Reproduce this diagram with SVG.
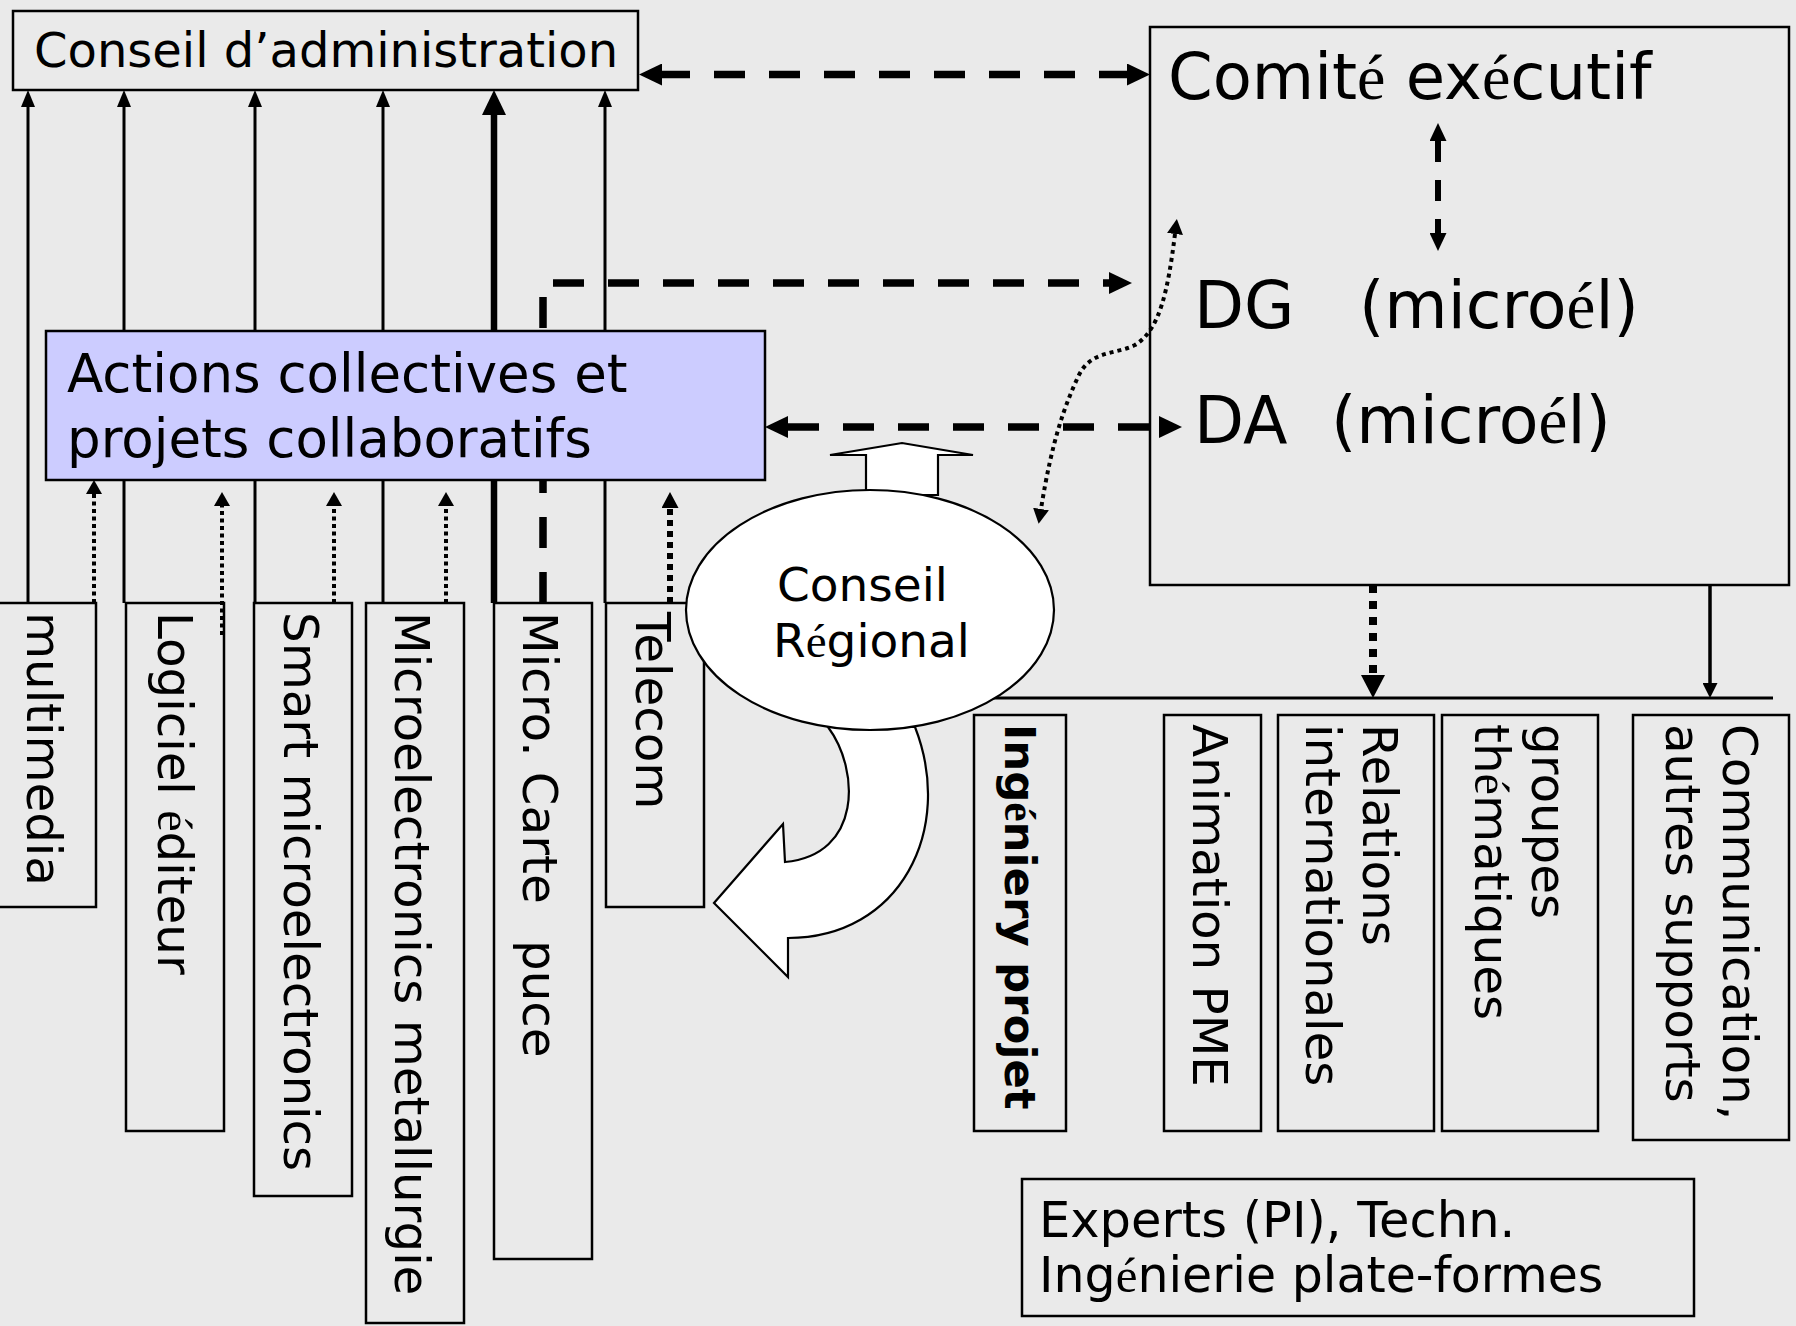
<svg xmlns="http://www.w3.org/2000/svg" width="1796" height="1326" viewBox="0 0 1796 1326">
<style>
text { font-family: "DejaVu Sans", Verdana, sans-serif; fill: #000; }
.acc { font-family: "Liberation Serif", "Times New Roman", serif; }
.box { fill: none; stroke: #000; stroke-width: 2.5; }
.ln { fill: none; stroke: #000; stroke-linecap: butt; }
.t47 { font-size: 48.3px; }
.white { fill: #fff; stroke: #000; stroke-width: 2.2; }
</style>
<defs>
<marker id="m-up" markerUnits="userSpaceOnUse" viewBox="0 0 17 14" markerWidth="17" markerHeight="14" refX="0" refY="7" orient="auto-start-reverse"><path d="M0,0 L17,7 L0,14 Z"/></marker>
<marker id="m-upb" markerUnits="userSpaceOnUse" viewBox="0 0 25 24" markerWidth="25" markerHeight="24" refX="0" refY="12" orient="auto-start-reverse"><path d="M0,0 L25,12 L0,24 Z"/></marker>
<marker id="m-dash" markerUnits="userSpaceOnUse" viewBox="0 0 23 22" markerWidth="23" markerHeight="22" refX="0" refY="11" orient="auto-start-reverse"><path d="M0,0 L23,11 L0,22 Z"/></marker>
<marker id="m-dot" markerUnits="userSpaceOnUse" viewBox="0 0 14 16" markerWidth="14" markerHeight="16" refX="0" refY="8" orient="auto-start-reverse"><path d="M0,0 L14,8 L0,16 Z"/></marker>
<marker id="m-dot2" markerUnits="userSpaceOnUse" viewBox="0 0 16 17" markerWidth="16" markerHeight="17" refX="0" refY="8.5" orient="auto-start-reverse"><path d="M0,0 L16,8.5 L0,17 Z"/></marker>
<marker id="m-vd" markerUnits="userSpaceOnUse" viewBox="0 0 18 17" markerWidth="18" markerHeight="17" refX="0" refY="8.5" orient="auto-start-reverse"><path d="M0,0 L18,8.5 L0,17 Z"/></marker>
<marker id="m-cv" markerUnits="userSpaceOnUse" viewBox="0 0 15 16" markerWidth="15" markerHeight="16" refX="0" refY="8" orient="auto-start-reverse"><path d="M0,0 L15,8 L0,16 Z"/></marker>
<marker id="m-dotb" markerUnits="userSpaceOnUse" viewBox="0 0 23 24" markerWidth="23" markerHeight="24" refX="0" refY="12" orient="auto-start-reverse"><path d="M0,0 L23,12 L0,24 Z"/></marker>
<marker id="m-sol" markerUnits="userSpaceOnUse" viewBox="0 0 15 15" markerWidth="15" markerHeight="15" refX="0" refY="7.5" orient="auto-start-reverse"><path d="M0,0 L15,7.5 L0,15 Z"/></marker>
</defs>

<rect x="0" y="0" width="1796" height="1326" fill="#EAEAEA"/>

<g id="connectors">
  <!-- solid lines up to Conseil d'administration -->
  <path class="ln" d="M28,603 V107" stroke-width="3" marker-end="url(#m-up)"/>
  <path class="ln" d="M124,603 V107" stroke-width="3" marker-end="url(#m-up)"/>
  <path class="ln" d="M255,603 V107" stroke-width="3" marker-end="url(#m-up)"/>
  <path class="ln" d="M383,603 V107" stroke-width="3" marker-end="url(#m-up)"/>
  <path class="ln" d="M494,603 V115" stroke-width="6.5" marker-end="url(#m-upb)"/>
  <path class="ln" d="M605,603 V107" stroke-width="3" marker-end="url(#m-up)"/>
  <!-- dotted lines up to Actions collectives -->
  <path class="ln" d="M94,603 V494" stroke-width="4" stroke-dasharray="4 3.5" marker-end="url(#m-dot)"/>
  <path class="ln" d="M222,635 V506" stroke-width="4" stroke-dasharray="4 3.5" marker-end="url(#m-dot)"/>
  <path class="ln" d="M334,603 V506" stroke-width="4" stroke-dasharray="4 3.5" marker-end="url(#m-dot)"/>
  <path class="ln" d="M446,603 V506" stroke-width="4" stroke-dasharray="4 3.5" marker-end="url(#m-dot)"/>
  <path class="ln" d="M670,603 V508" stroke-width="6" stroke-dasharray="6 5" marker-end="url(#m-dot2)"/>
  <!-- Conseil d'administration <-> Comité exécutif -->
  <path class="ln" d="M662,74.5 H1127" stroke-width="7.5" stroke-dasharray="28 24 31 24 31 24 31 24 31 24 31 24 31 24 31 24 31 24" marker-start="url(#m-dash)" marker-end="url(#m-dash)"/>
  <!-- Micro. Carte puce -> DG -->
  <path class="ln" d="M543,603 V283 H1109" stroke-width="7.5" stroke-dasharray="31 24" marker-end="url(#m-dash)"/>
  <!-- Actions collectives <-> DA -->
  <path class="ln" d="M788,427 H1159" stroke-width="7.5" stroke-dasharray="31 24" marker-start="url(#m-dash)" marker-end="url(#m-dash)"/>
  <!-- Comité <-> DG -->
  <path class="ln" d="M1438,141 V233" stroke-width="6" stroke-dasharray="21 18" marker-start="url(#m-vd)" marker-end="url(#m-vd)"/>
  <!-- dotted curve -->
  <path class="ln" d="M1175,234 C1168,290 1160,330 1135,345 C1115,355 1090,350 1078,377 C1065,405 1052,440 1041,509" stroke-width="4" stroke-dasharray="4 4" marker-start="url(#m-cv)" marker-end="url(#m-cv)"/>
  <!-- Comité down to the bus line -->
  <path class="ln" d="M1373,585 V675" stroke-width="8" stroke-dasharray="8 8" marker-end="url(#m-dotb)"/>
  <path class="ln" d="M1710,585 V683" stroke-width="3.5" marker-end="url(#m-sol)"/>
  <!-- bus line -->
  <path class="ln" d="M960,698 H1773" stroke-width="3"/>
</g>

<g id="n-conseil-admin">
  <rect class="box" x="13" y="11" width="625" height="79"/>
  <text x="34" y="67" font-size="48">Conseil d’administration</text>
</g>

<g id="n-comite">
  <rect class="box" x="1150" y="27" width="639" height="558"/>
  <text x="1168" y="99" font-size="64">Comit<tspan class="acc">é</tspan> ex<tspan class="acc">é</tspan>cutif</text>
</g>

<g id="n-dg">
  <text x="1194" y="328" font-size="65">DG <tspan x="1359">(micro<tspan class="acc">é</tspan>l)</tspan></text>
</g>

<g id="n-da">
  <text x="1194" y="443" font-size="65">DA <tspan x="1331">(micro<tspan class="acc">é</tspan>l)</tspan></text>
</g>

<g id="n-actions">
  <rect x="46" y="331" width="719" height="149" fill="#CCCCFF" stroke="#000" stroke-width="2.5"/>
  <text x="67" y="392" font-size="53">Actions collectives et</text>
  <text x="67" y="457" font-size="53">projets collaboratifs</text>
</g>

<g id="n-multimedia">
  <rect class="box" x="-3" y="603" width="99" height="304"/>
  <text class="t47" transform="translate(27,612) rotate(90)">multimedia</text>
</g>
<g id="n-logiciel">
  <rect class="box" x="126" y="603" width="98" height="528"/>
  <text class="t47" transform="translate(158,612) rotate(90)">Logiciel <tspan class="acc">é</tspan>diteur</text>
</g>
<g id="n-smart">
  <rect class="box" x="254" y="603" width="98" height="593"/>
  <text class="t47" transform="translate(284,612) rotate(90)">Smart microelectronics</text>
</g>
<g id="n-metallurgie">
  <rect class="box" x="366" y="603" width="98" height="720"/>
  <text class="t47" transform="translate(395,612) rotate(90)">Microelectronics metallurgie</text>
</g>
<g id="n-carte-puce">
  <rect class="box" x="494" y="603" width="98" height="656"/>
  <text class="t47" transform="translate(523,612) rotate(90)">Micro. Carte <tspan x="328">puce</tspan></text>
</g>
<g id="n-telecom">
  <rect class="box" x="606" y="603" width="98" height="304"/>
  <text class="t47" transform="translate(636,612) rotate(90)">Telecom</text>
</g>

<g id="n-conseil-regional">
  <path class="white" d="M828,727 C860,770 862,855 785,862 L783,824 L714,903 L788,977 L788,938 C900,938 955,830 915,727 Z"/>
  <path class="white" d="M866,495 L866,455 L830,455 L902,443 L973,455 L938,455 L938,495 Z"/>
  <ellipse class="white" cx="870" cy="610" rx="184" ry="120"/>
  <text x="777" y="601" font-size="47">Conseil</text>
  <text x="773" y="657" font-size="47">R<tspan class="acc">é</tspan>gional</text>
</g>

<g id="n-ingeniery">
  <rect class="box" x="974" y="715" width="92" height="416"/>
  <text transform="translate(1005,724) rotate(90)" font-size="43.5" font-weight="bold">Ing<tspan class="acc">é</tspan>niery projet</text>
</g>
<g id="n-animation">
  <rect class="box" x="1164" y="715" width="97" height="416"/>
  <text class="t47" transform="translate(1193,724) rotate(90)">Animation PME</text>
</g>
<g id="n-relations">
  <rect class="box" x="1278" y="715" width="156" height="416"/>
  <text class="t47" transform="translate(1363,724) rotate(90)">Relations</text>
  <text class="t47" transform="translate(1306,724) rotate(90)">internationales</text>
</g>
<g id="n-groupes">
  <rect class="box" x="1442" y="715" width="156" height="416"/>
  <text class="t47" transform="translate(1532,724) rotate(90)">groupes</text>
  <text class="t47" transform="translate(1475,724) rotate(90)">th<tspan class="acc">é</tspan>matiques</text>
</g>
<g id="n-communication">
  <rect class="box" x="1633" y="715" width="156" height="425"/>
  <text class="t47" transform="translate(1723,724) rotate(90)">Communication,</text>
  <text class="t47" transform="translate(1666,724) rotate(90)">autres supports</text>
</g>

<g id="n-experts">
  <rect class="box" x="1022" y="1179" width="672" height="137"/>
  <text x="1039" y="1237" font-size="49.5">Experts (PI), Techn.</text>
  <text x="1039" y="1292" font-size="49">Ing<tspan class="acc">é</tspan>nierie plate-formes</text>
</g>
</svg>
